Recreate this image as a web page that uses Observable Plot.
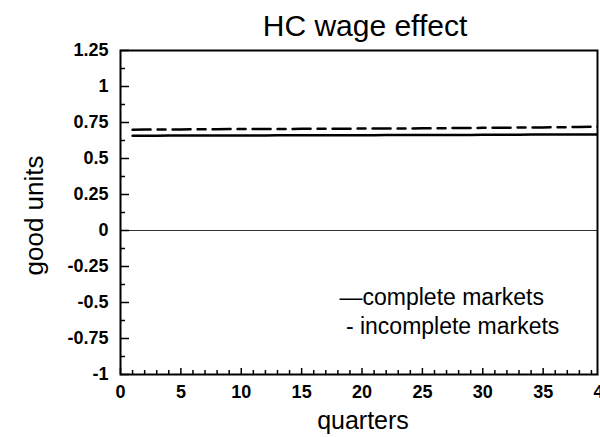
<!DOCTYPE html>
<html>
<head>
<meta charset="utf-8">
<script src="https://cdn.jsdelivr.net/npm/d3@7"></script>
<script src="https://cdn.jsdelivr.net/npm/@observablehq/plot@0.6"></script>
<style>
  html, body { margin: 0; padding: 0; background: #fff; }
  svg { display: block; }
</style>
</head>
<body>
<div id="chart"></div>
<script>
const title = "HC wage effect";
const xLabel = "quarters";
const yLabel = "good units";
const legendLabels = ["\u2014complete markets", " - incomplete markets"];

const quarters = d3.range(1, 41);
const complete = [
  0.658, 0.658, 0.658, 0.659, 0.659, 0.659, 0.659, 0.660, 0.660, 0.660,
  0.660, 0.660, 0.661, 0.661, 0.661, 0.661, 0.662, 0.662, 0.662, 0.662,
  0.662, 0.663, 0.663, 0.663, 0.663, 0.664, 0.664, 0.664, 0.664, 0.665,
  0.665, 0.665, 0.665, 0.666, 0.666, 0.666, 0.666, 0.667, 0.667, 0.667
];
const incomplete = [
  0.700, 0.701, 0.701, 0.702, 0.702, 0.703, 0.703, 0.703, 0.704, 0.704,
  0.704, 0.705, 0.705, 0.705, 0.706, 0.706, 0.706, 0.707, 0.707, 0.708,
  0.708, 0.708, 0.709, 0.709, 0.710, 0.710, 0.711, 0.711, 0.712, 0.713,
  0.713, 0.714, 0.715, 0.716, 0.716, 0.717, 0.718, 0.719, 0.720, 0.721
];

const xTicksMajor = [0, 5, 10, 15, 20, 25, 30, 35, 40];
const xTicksMinor = d3.range(1, 40).filter(d => d % 5 !== 0);
const yTicksMajor = [-1, -0.75, -0.5, -0.25, 0, 0.25, 0.5, 0.75, 1, 1.25];
const yTicksMinor = [-0.875, -0.625, -0.375, -0.125, 0.125, 0.375, 0.625, 0.875, 1.125];
const yTickLabels = ["-1", "-0.75", "-0.5", "-0.25", "0", "0.25", "0.5", "0.75", "1", "1.25"];

const rowsC = quarters.map((q, i) => ({q, v: complete[i]}));
const rowsI = quarters.map((q, i) => ({q, v: incomplete[i]}));

const font = "'Liberation Sans', Arial, Helvetica, sans-serif";

const chart = Plot.plot({
  width: 600,
  height: 437,
  marginLeft: 120,
  marginRight: 3,
  marginTop: 50,
  marginBottom: 63,
  style: {fontFamily: font, color: "#000", background: "#fff", overflow: "hidden"},
  x: {domain: [0, 39.5]},
  y: {domain: [-1, 1.25]},
  marks: [
    Plot.ruleY([0], {stroke: "#333", strokeWidth: 1}),
    Plot.line(rowsC, {x: "q", y: "v", stroke: "#000", strokeWidth: 2.5, clip: true}),
    Plot.line(rowsI, {x: "q", y: "v", stroke: "#000", strokeWidth: 2.5, strokeDasharray: "18,7,8,7", clip: true}),
    Plot.frame({stroke: "#000", strokeWidth: 2}),
    // y ticks (inward)
    Plot.axisY({ticks: yTicksMajor, tickSize: -9, text: null, strokeWidth: 1.5, label: null}),
    Plot.axisY({ticks: yTicksMinor, tickSize: -5, text: null, strokeWidth: 1.5, label: null}),
    Plot.axisY({ticks: yTicksMajor, tickSize: 0, tickPadding: 12, tickFormat: (d, i) => yTickLabels[i], fontSize: 18, fontWeight: "bold", label: null}),
    // x ticks (inward)
    Plot.axisX({ticks: xTicksMajor, tickSize: -6, text: null, strokeWidth: 1.5, label: null}),
    Plot.axisX({ticks: xTicksMinor, tickSize: -4, text: null, strokeWidth: 1.5, label: null}),
    Plot.axisX({ticks: xTicksMajor, tickSize: 0, tickPadding: 11, fontSize: 18, fontWeight: "bold", label: null}),
    // title and axis labels
    Plot.text([title], {frameAnchor: "top", dx: 6, dy: -36, lineAnchor: "top", fontSize: 30, fill: "#000"}),
    Plot.text([xLabel], {frameAnchor: "bottom", dx: 4, dy: 46, textAnchor: "middle", lineAnchor: "middle", fontSize: 25, fill: "#000"}),
    Plot.text([yLabel], {frameAnchor: "left", dx: -86, dy: 3, textAnchor: "middle", rotate: -90, lineAnchor: "middle", fontSize: 26, fill: "#000"}),
    // legend
    Plot.text([legendLabels[0]], {frameAnchor: "top-left", dx: 219, dy: 247, textAnchor: "start", lineAnchor: "middle", fontSize: 23, fill: "#000"}),
    Plot.text([legendLabels[1]], {frameAnchor: "top-left", dx: 219, dy: 276, textAnchor: "start", lineAnchor: "middle", fontSize: 23, fill: "#000"})
  ]
});
document.getElementById("chart").appendChild(chart);
</script>
</body>
</html>
